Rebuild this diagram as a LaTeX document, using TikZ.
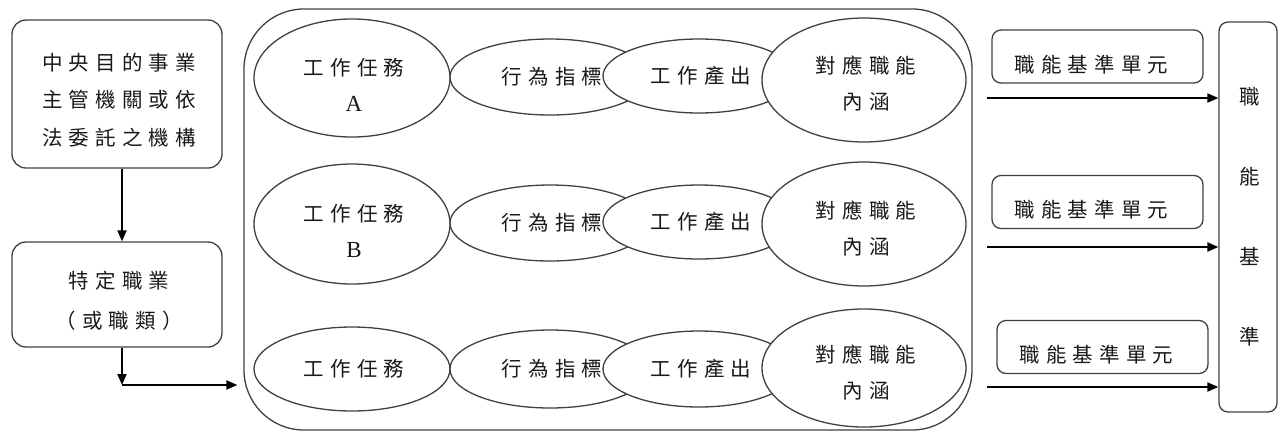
\documentclass[tikz,border=0pt]{standalone}
\usepackage{fontspec}
\newfontfamily\cjk[LetterSpace=30]{Noto Sans CJK TC}
\newfontfamily\latin{Liberation Serif}
\usetikzlibrary{shapes.geometric,arrows.meta,calc}
\begin{document}
\begin{tikzpicture}[x=1pt,y=-1pt,
  outline/.style={draw=black!75, line width=1.3pt},
  rbox/.style={outline, rounded corners=14pt, inner sep=0pt},
  ubox/.style={outline, rounded corners=9pt, inner sep=0pt, minimum width=211pt, minimum height=53pt},
  ell/.style={outline, ellipse, fill=white, inner sep=0pt},
  txt/.style={font=\cjk\fontsize{20.5}{36}\selectfont, align=center, text=black!90, inner sep=0pt},
  arr/.style={line width=2pt, draw=black, -{Triangle[length=11pt,width=9pt]}},
]
\useasboundingbox (0,0) rectangle (1285,432);

% left column
\node[rbox, minimum width=210pt, minimum height=148pt] (b1) at (117,94) {};
\node[txt, font=\cjk\fontsize{20.5}{37.5}\selectfont] (b1t) at ([xshift=2pt,yshift=-6pt]b1.center) {中央目的事業\\主管機關或依\\法委託之機構};
\node[rbox, minimum width=210pt, minimum height=105pt] (b2) at (117,294.5) {};
\node[txt, font=\cjk\fontsize{20.5}{40}\selectfont] (b2t) at ([xshift=2pt,yshift=-6pt]b2.center) {特定職業\\（或職類）};

\coordinate (turn) at (122,385);
\draw[arr] ([xshift=5pt]b1.south) -- ([xshift=5pt]b2.north);
\draw[arr] ([xshift=5pt]b2.south) -- (turn);

% big container
\node[outline, rounded corners=60pt, minimum width=728pt, minimum height=421pt, inner sep=0pt] (big) at (608,219.5) {};
\draw[arr, shorten >=6pt] (turn) -- (turn -| big.west);

% row A
\node[ell, minimum width=196pt, minimum height=118pt] (tA) at (352,78) {};
\node[txt] at ([xshift=2pt,yshift=-7pt]tA.center) {工作任務\\{\latin\fontsize{23}{36}\selectfont A}};
\node[ell, minimum width=200pt, minimum height=76pt, txt] (bA) at (550,77) {\hspace*{4pt}行為指標};
\node[ell, minimum width=192pt, minimum height=74pt, txt] (oA) at (699,76) {\hspace*{4pt}工作產出};
\node[ell, minimum width=204pt, minimum height=124pt] (cA) at (864,80) {};
\node[txt] at ([xshift=2pt,yshift=-4pt]cA.center) {對應職能\\內涵};

% row B
\node[ell, minimum width=196pt, minimum height=120pt] (tB) at (352,224) {};
\node[txt] at ([xshift=2pt,yshift=-7pt]tB.center) {工作任務\\{\latin\fontsize{23}{36}\selectfont B}};
\node[ell, minimum width=200pt, minimum height=76pt, txt] (bB) at (550,223) {\hspace*{4pt}行為指標};
\node[ell, minimum width=192pt, minimum height=74pt, txt] (oB) at (699,222) {\hspace*{4pt}工作產出};
\node[ell, minimum width=204pt, minimum height=124pt] (cB) at (864,224) {};
\node[txt] at ([xshift=2pt,yshift=-4pt]cB.center) {對應職能\\內涵};

% row C
\node[ell, minimum width=196pt, minimum height=84pt, txt] (tC) at (352,369) {\hspace*{4pt}工作任務};
\node[ell, minimum width=200pt, minimum height=78pt, txt] (bC) at (550,369) {\hspace*{4pt}行為指標};
\node[ell, minimum width=192pt, minimum height=76pt, txt] (oC) at (699,369) {\hspace*{4pt}工作產出};
\node[ell, minimum width=204pt, minimum height=118pt] (cC) at (864,368) {};
\node[txt] at ([xshift=2pt,yshift=-4pt]cC.center) {對應職能\\內涵};

% right side
\node[ubox] (u1) at (1097.5,56.5) {};
\node[txt] at ([xshift=-6pt,yshift=-8pt]u1.center) {職能基準單元};
\node[ubox] (u2) at (1097.5,202) {};
\node[txt] at ([xshift=-6pt,yshift=-8pt]u2.center) {職能基準單元};
\node[ubox] (u3) at (1102.5,347) {};
\node[txt] at ([xshift=-6pt,yshift=-8pt]u3.center) {職能基準單元};

\node[rbox, rounded corners=9pt, minimum width=58pt, minimum height=390pt] (tall) at (1248,217) {};
\node[txt, font=\cjk\fontsize{20.5}{80}\selectfont] at ([xshift=2pt]tall.center) {職\\能\\基\\準};

\coordinate (a1) at (987,98);
\coordinate (a2) at (987,247);
\coordinate (a3) at (987,387);
\draw[arr] (a1) -- (a1 -| tall.west);
\draw[arr] (a2) -- (a2 -| tall.west);
\draw[arr] (a3) -- (a3 -| tall.west);
\end{tikzpicture}
\end{document}
